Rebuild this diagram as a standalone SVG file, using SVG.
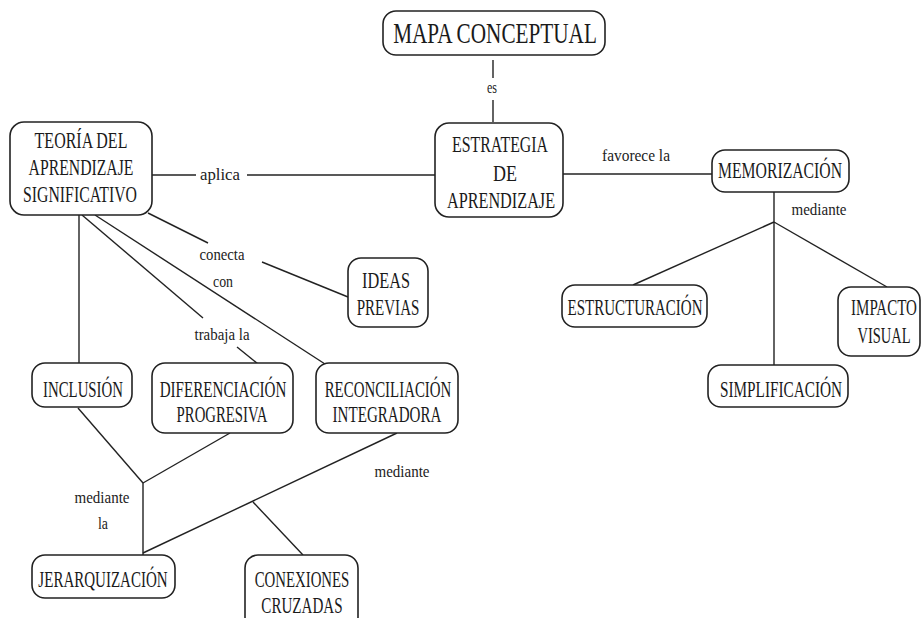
<svg xmlns="http://www.w3.org/2000/svg" width="922" height="618" viewBox="0 0 922 618">
  <style>
    .box { fill: #ffffff; stroke: #222; stroke-width: 1.6; }
    .node text { font-family: 'Liberation Serif', 'DejaVu Serif', serif; font-size: 23px; fill: #1a1a1a; text-anchor: middle; }
    .title text { font-size: 29px; }
    .link { stroke: #222; stroke-width: 1.4; fill: none; }
    .lbl { font-family: 'Liberation Serif', 'DejaVu Serif', serif; font-size: 17px; fill: #222; text-anchor: middle; }
  </style>
  <rect width="922" height="618" fill="#ffffff"/>

  <!-- connectors -->
  <g id="connectors">
    <line class="link" x1="493" y1="60" x2="493" y2="78"/>
    <line class="link" x1="493" y1="100" x2="493" y2="122"/>
    <text class="lbl" x="492" y="93" textLength="10" lengthAdjust="spacingAndGlyphs">es</text>

    <line class="link" x1="152" y1="175" x2="196" y2="175"/>
    <line class="link" x1="247" y1="175" x2="435" y2="175"/>
    <text class="lbl" x="220" y="180" textLength="40" lengthAdjust="spacingAndGlyphs">aplica</text>

    <line class="link" x1="563" y1="174" x2="712" y2="174"/>
    <text class="lbl" x="636" y="161" textLength="68" lengthAdjust="spacingAndGlyphs">favorece la</text>

    <line class="link" x1="774" y1="192" x2="774" y2="365"/>
    <line class="link" x1="774" y1="222" x2="633" y2="285"/>
    <line class="link" x1="774" y1="222" x2="887" y2="287"/>
    <text class="lbl" x="819" y="215" textLength="55" lengthAdjust="spacingAndGlyphs">mediante</text>

    <line class="link" x1="148" y1="213" x2="208" y2="243"/>
    <line class="link" x1="262" y1="262" x2="348" y2="297"/>
    <text class="lbl" x="222" y="260" textLength="45" lengthAdjust="spacingAndGlyphs">conecta</text>
    <text class="lbl" x="223" y="287" textLength="20" lengthAdjust="spacingAndGlyphs">con</text>

    <line class="link" x1="79" y1="215" x2="79" y2="363"/>
    <line class="link" x1="82" y1="215" x2="203" y2="318"/>
    <line class="link" x1="237" y1="347" x2="258" y2="364"/>
    <text class="lbl" x="222" y="340" textLength="55" lengthAdjust="spacingAndGlyphs">trabaja la</text>
    <line class="link" x1="95" y1="215" x2="325" y2="364"/>

    <line class="link" x1="78" y1="408" x2="143" y2="483"/>
    <line class="link" x1="230" y1="433" x2="143" y2="483"/>
    <line class="link" x1="143" y1="483" x2="143" y2="555"/>
    <text class="lbl" x="102" y="503" textLength="55" lengthAdjust="spacingAndGlyphs">mediante</text>
    <text class="lbl" x="103" y="529" textLength="10" lengthAdjust="spacingAndGlyphs">la</text>

    <line class="link" x1="143" y1="553" x2="397" y2="433"/>
    <line class="link" x1="253" y1="502" x2="303" y2="555"/>
    <text class="lbl" x="402" y="477" textLength="55" lengthAdjust="spacingAndGlyphs">mediante</text>
  </g>

  <!-- nodes: labels are set in a horizontally condensed serif -->
  <g id="mapa-conceptual" class="node title">
    <rect class="box" x="383" y="11" width="222" height="44" rx="13"/>
    <text transform="translate(495 43) scale(0.72 1)" textLength="283" lengthAdjust="spacingAndGlyphs">MAPA CONCEPTUAL</text>
  </g>

  <g id="estrategia" class="node">
    <rect class="box" x="435" y="123" width="128" height="94" rx="14"/>
    <text transform="translate(500 152) scale(0.64 1)" textLength="150" lengthAdjust="spacingAndGlyphs">ESTRATEGIA</text>
    <text transform="translate(505 181) scale(0.64 1)" textLength="37.5" lengthAdjust="spacingAndGlyphs">DE</text>
    <text transform="translate(501 208) scale(0.64 1)" textLength="169" lengthAdjust="spacingAndGlyphs">APRENDIZAJE</text>
  </g>

  <g id="teoria" class="node">
    <rect class="box" x="10" y="122" width="142" height="93" rx="14"/>
    <text transform="translate(81 148) scale(0.64 1)" textLength="145" lengthAdjust="spacingAndGlyphs">TEORÍA DEL</text>
    <text transform="translate(81 175) scale(0.64 1)" textLength="164" lengthAdjust="spacingAndGlyphs">APRENDIZAJE</text>
    <text transform="translate(80 202) scale(0.64 1)" textLength="178" lengthAdjust="spacingAndGlyphs">SIGNIFICATIVO</text>
  </g>

  <g id="memorizacion" class="node">
    <rect class="box" x="712" y="150" width="137" height="42" rx="13"/>
    <text transform="translate(780 178) scale(0.64 1)" textLength="194" lengthAdjust="spacingAndGlyphs">MEMORIZACIÓN</text>
  </g>

  <g id="estructuracion" class="node">
    <rect class="box" x="562" y="285" width="145" height="42" rx="13"/>
    <text transform="translate(635 315) scale(0.64 1)" textLength="211" lengthAdjust="spacingAndGlyphs">ESTRUCTURACIÓN</text>
  </g>

  <g id="impacto-visual" class="node">
    <rect class="box" x="838" y="287" width="82" height="69" rx="13"/>
    <text transform="translate(884 315) scale(0.64 1)" textLength="103" lengthAdjust="spacingAndGlyphs">IMPACTO</text>
    <text transform="translate(884 343) scale(0.64 1)" textLength="83" lengthAdjust="spacingAndGlyphs">VISUAL</text>
  </g>

  <g id="simplificacion" class="node">
    <rect class="box" x="708" y="365" width="140" height="42" rx="13"/>
    <text transform="translate(781 397) scale(0.64 1)" textLength="191" lengthAdjust="spacingAndGlyphs">SIMPLIFICACIÓN</text>
  </g>

  <g id="ideas-previas" class="node">
    <rect class="box" x="348" y="258" width="80" height="69" rx="13"/>
    <text transform="translate(386 288) scale(0.64 1)" textLength="75" lengthAdjust="spacingAndGlyphs">IDEAS</text>
    <text transform="translate(388 315) scale(0.64 1)" textLength="98" lengthAdjust="spacingAndGlyphs">PREVIAS</text>
  </g>

  <g id="inclusion" class="node">
    <rect class="box" x="32" y="363" width="100" height="44" rx="13"/>
    <text transform="translate(83 397) scale(0.64 1)" textLength="125" lengthAdjust="spacingAndGlyphs">INCLUSIÓN</text>
  </g>

  <g id="diferenciacion" class="node">
    <rect class="box" x="152" y="363" width="141" height="70" rx="13"/>
    <text transform="translate(223 397) scale(0.64 1)" textLength="198" lengthAdjust="spacingAndGlyphs">DIFERENCIACIÓN</text>
    <text transform="translate(222 422) scale(0.64 1)" textLength="142" lengthAdjust="spacingAndGlyphs">PROGRESIVA</text>
  </g>

  <g id="reconciliacion" class="node">
    <rect class="box" x="316" y="363" width="142" height="70" rx="13"/>
    <text transform="translate(388 397) scale(0.64 1)" textLength="198" lengthAdjust="spacingAndGlyphs">RECONCILIACIÓN</text>
    <text transform="translate(387 422) scale(0.64 1)" textLength="170" lengthAdjust="spacingAndGlyphs">INTEGRADORA</text>
  </g>

  <g id="jerarquizacion" class="node">
    <rect class="box" x="32" y="555" width="143" height="43" rx="13"/>
    <text transform="translate(103 587) scale(0.64 1)" textLength="202" lengthAdjust="spacingAndGlyphs">JERARQUIZACIÓN</text>
  </g>

  <g id="conexiones-cruzadas" class="node">
    <rect class="box" x="245" y="555" width="113" height="75" rx="13"/>
    <text transform="translate(302 587) scale(0.64 1)" textLength="148" lengthAdjust="spacingAndGlyphs">CONEXIONES</text>
    <text transform="translate(302 613) scale(0.64 1)" textLength="127" lengthAdjust="spacingAndGlyphs">CRUZADAS</text>
  </g>
</svg>
